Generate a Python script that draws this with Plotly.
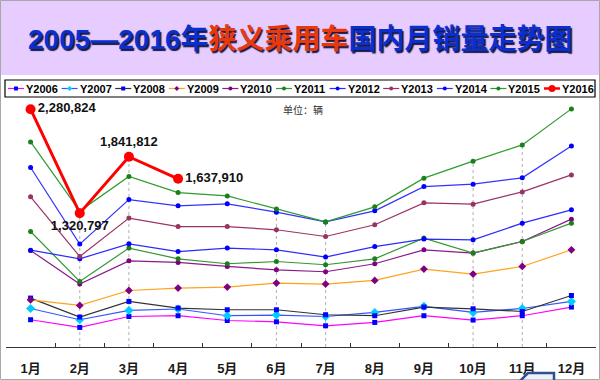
import plotly.graph_objects as go

months = ["1月", "2月", "3月", "4月", "5月", "6月", "7月", "8月", "9月", "10月", "11月", "12月"]
years = ["Y2006", "Y2007", "Y2008", "Y2009", "Y2010", "Y2011", "Y2012", "Y2013", "Y2014", "Y2015", "Y2016"]

y2006 = [336000, 265000, 366000, 373000, 329000, 317000, 280000, 311000, 373000, 333000, 373000, 453000]
y2007 = [440000, 336000, 422000, 435000, 373000, 379000, 366000, 403000, 459000, 403000, 440000, 505000]
y2008 = [536000, 361000, 505000, 444000, 428000, 428000, 382000, 373000, 453000, 437000, 412000, 560000]
y2009 = [520000, 468000, 606000, 628000, 638000, 675000, 665000, 699000, 804000, 758000, 828000, 982000]
y2010 = [976000, 665000, 880000, 865000, 828000, 797000, 779000, 853000, 982000, 952000, 1059000, 1265000]
y2011 = [1151000, 689000, 998000, 899000, 853000, 874000, 844000, 899000, 1090000, 952000, 1059000, 1228000]
y2012 = [979000, 899000, 1037000, 966000, 998000, 982000, 915000, 1012000, 1081000, 1074000, 1228000, 1351000]
y2013 = [1471000, 920000, 1275000, 1197000, 1197000, 1167000, 1105000, 1213000, 1416000, 1404000, 1517000, 1674000]
y2014 = [1742000, 1035000, 1446000, 1388000, 1407000, 1330000, 1240000, 1342000, 1566000, 1588000, 1647000, 1942000]
y2015 = [1979000, 1340000, 1659000, 1511000, 1480000, 1358000, 1240000, 1379000, 1644000, 1801000, 1951000, 2284000]
y2016 = [2280824, 1320797, 1841812, 1637910]
labels2016 = ["2,280,824", "1,320,797", "1,841,812", "1,637,910"]
label_pos = ["middle right", "bottom center", "top center", "middle right"]
drop_months = [1, 2, 5, 6, 9, 10]

series = [y2006, y2007, y2008, y2009, y2010, y2011, y2012, y2013, y2014, y2015, y2016]
line_colors = ["#FF00FF", "#3355FF", "#333333", "#FFA31A", "#8B1A8B", "#339933",
               "#2B2BFF", "#993366", "#3333FF", "#2E9B2E", "#FF0000"]
marker_colors = ["#0000FF", "#00CCFF", "#0000FF", "#800080", "#800080", "#1A801A",
                 "#0000FF", "#993366", "#0000FF", "#1A801A", "#FF0000"]
symbols = ["square", "diamond", "square", "diamond", "circle", "circle",
           "circle", "circle", "circle", "circle", "circle"]
msizes = [5, 7, 5, 6, 5, 5, 5, 5, 5, 5, 10]
lwidths = [1.2, 1.2, 1.2, 1.2, 1.2, 1.2, 1.2, 1.2, 1.2, 1.2, 3]

W, H = 600, 380
ML, MR, MT, MB = 6, 4, 100, 33
PW, PH = W - ML - MR, H - MT - MB
yrange = [84000, 2366000]


def px(x):
    return (x - ML) / PW


def py(y):
    return (H - MB - y) / PH


FONT = "Liberation Sans, Arial, Noto Sans CJK SC, sans-serif"

fig = go.Figure()
for i, (name, vals) in enumerate(zip(years, series)):
    is_last = i == len(series) - 1
    fig.add_trace(go.Scatter(
        x=months[:len(vals)], y=vals, name=name,
        mode="lines+markers+text" if is_last else "lines+markers",
        text=labels2016 if is_last else None,
        textposition=label_pos if is_last else None,
        textfont=dict(family=FONT, size=13, color="#111111", weight="bold"),
        line=dict(color=line_colors[i], width=lwidths[i]),
        marker=dict(color=marker_colors[i], symbol=symbols[i], size=msizes[i],
                    line=dict(width=0)),
        showlegend=False,
    ))

shapes = []
shapes.append(dict(type="rect", xref="paper", yref="paper", x0=px(0), x1=px(W),
                   y0=py(75), y1=py(0), fillcolor="#E6CCFF", line=dict(width=0), layer="below"))
for m in drop_months:
    top = max(s[m] for s in series if len(s) > m)
    shapes.append(dict(type="line", xref="x", yref="y", x0=m, x1=m, y0=yrange[0], y1=top,
                       line=dict(color="#B0B0B0", width=1, dash="dot"), layer="below"))
shapes.append(dict(type="rect", xref="paper", yref="paper", x0=px(5), x1=px(595),
                   y0=py(97), y1=py(80), line=dict(color="#000000", width=1.2)))
shapes.append(dict(type="rect", xref="paper", yref="paper", x0=px(0.5), x1=px(599.5),
                   y0=py(379.5), y1=py(0.5), line=dict(color="#A8A8A8", width=1)))

annotations = []
step = 53.6
for i, name in enumerate(years):
    xs = 8 + i * step
    yc = 88.5
    lw = 2.5 if i == len(years) - 1 else 1.2
    shapes.append(dict(type="line", xref="paper", yref="paper", x0=px(xs), x1=px(xs + 16),
                       y0=py(yc), y1=py(yc), line=dict(color=line_colors[i], width=lw)))
    r = 3.5 if i == len(years) - 1 else (2.5 if symbols[i] == "diamond" else 2)
    cx = xs + 8
    if symbols[i] == "diamond":
        path = (f"M {px(cx - r)},{py(yc)} L {px(cx)},{py(yc - r)} L {px(cx + r)},{py(yc)} "
                f"L {px(cx)},{py(yc + r)} Z")
        shapes.append(dict(type="path", xref="paper", yref="paper", path=path,
                           fillcolor=marker_colors[i], line=dict(width=0)))
    else:
        shapes.append(dict(type="circle" if symbols[i] == "circle" else "rect",
                           xref="paper", yref="paper", x0=px(cx - r), x1=px(cx + r),
                           y0=py(yc + r), y1=py(yc - r), fillcolor=marker_colors[i],
                           line=dict(width=0)))
    annotations.append(dict(xref="paper", yref="paper", x=px(xs + 17), y=py(yc),
                            xanchor="left", yanchor="middle", showarrow=False,
                            text=f"<b>{name}</b>", borderpad=0,
                            font=dict(family=FONT, size=11, color="#000000")))

annotations.append(dict(
    xref="paper", yref="paper", x=px(300), y=py(40), xanchor="center", yanchor="middle",
    showarrow=False,
    text=("<b><span style='color:#0A2FD0'>2005—2016年</span>"
          "<span style='color:#E8380D'>狭义乘用车</span>"
          "<span style='color:#0A2FD0'>国内月销量走势图</span></b>"),
    font=dict(family=FONT, size=28, color="#0A2FD0", shadow="1.5px 1.5px 1px #1a1a40"),
))
annotations.append(dict(xref="paper", yref="paper", x=px(303), y=py(110), xanchor="center",
                        yanchor="middle", showarrow=False, text="单位：辆",
                        font=dict(family=FONT, size=10, color="#333333")))
shapes.append(dict(type="path", xref="paper", yref="paper",
                   path=(f"M {px(520)},{py(381)} L {px(528)},{py(373)} L {px(554)},{py(373)} "
                         f"L {px(554)},{py(381)} Z"),
                   fillcolor="#EEF1F8", line=dict(color="#2F4F8F", width=2.5)))

fig.update_layout(
    width=W, height=H,
    margin=dict(l=ML, r=MR, t=MT, b=MB),
    paper_bgcolor="white", plot_bgcolor="white",
    shapes=shapes, annotations=annotations,
    showlegend=False, hovermode=False,
    xaxis=dict(type="category", categoryorder="array", categoryarray=months,
               range=[-0.5, 11.5], tickson="boundaries", ticks="inside", ticklen=4,
               tickcolor="#333333", showline=True, linecolor="#333333", linewidth=1.3,
               showgrid=False, zeroline=False, ticklabelstandoff=9,
               tickfont=dict(family=FONT, size=13, color="#1a1a1a", weight="bold")),
    yaxis=dict(range=yrange, visible=False, showgrid=False, zeroline=False),
)

fig.write_html("out.html", config={"displayModeBar": False},
               post_script="document.body.style.margin='0';document.body.style.overflow='hidden';")
